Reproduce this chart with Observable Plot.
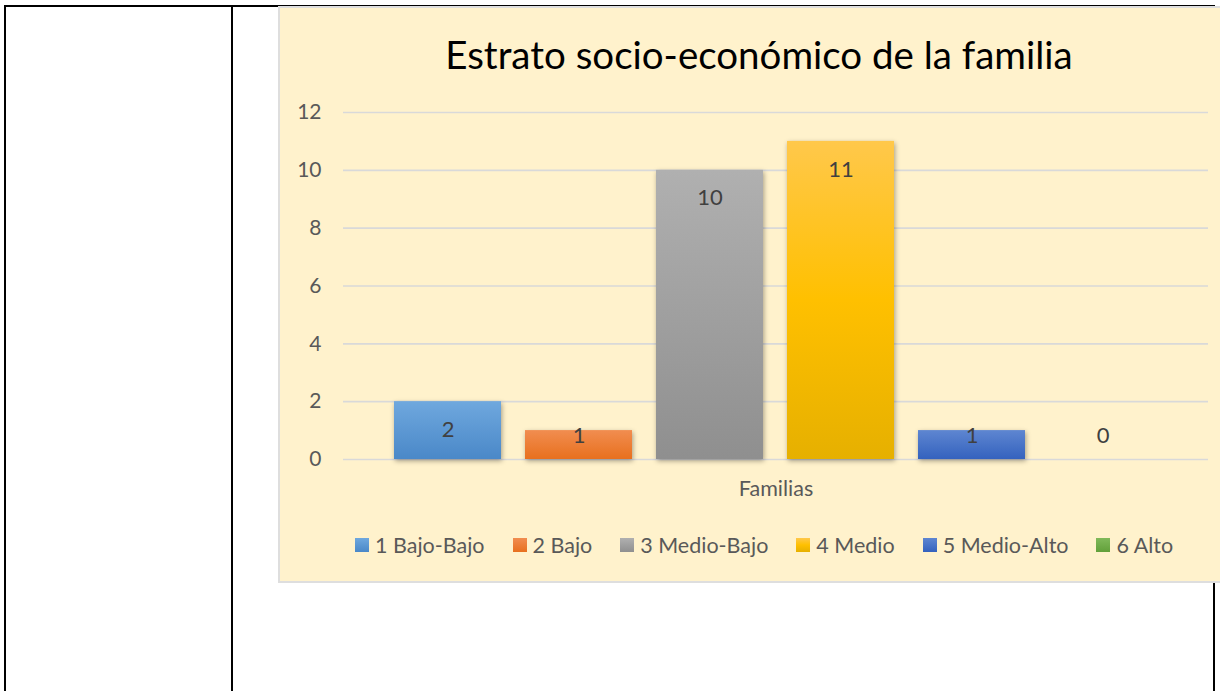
<!DOCTYPE html>
<html><head><meta charset="utf-8">
<script src="https://cdn.jsdelivr.net/npm/d3@7"></script>
<script src="https://cdn.jsdelivr.net/npm/@observablehq/plot@0.6"></script>
<style>
html,body{margin:0;padding:0;}
body{width:1220px;height:691px;position:relative;overflow:hidden;background:#fff;font-family:Lato,"Open Sans",sans-serif;}
.line{position:absolute;background:#000;}
#box{position:absolute;left:278px;top:6px;width:960px;height:573px;background:#FFF2CC;border:2px solid #dedede;box-sizing:content-box;}
#title{position:absolute;left:278px;width:962px;top:29px;text-align:center;font-size:38.5px;color:#000;font-family:Lato,sans-serif;line-height:50px;white-space:nowrap;}
#chart{position:absolute;left:0;top:90px;}
#chart svg g[aria-label="bar"] rect{filter:drop-shadow(1px 2px 2.5px rgba(0,0,0,0.35));}
#legend{position:absolute;left:355px;top:528px;}
.lg-swatches{margin-bottom:0 !important;}
.lg-swatch{margin-right:28px !important;}
.lg-swatch > svg{margin-right:6px !important;}
</style>
</head><body>
<div class="line" style="left:4px;top:5px;width:2px;height:686px"></div>
<div class="line" style="left:231px;top:5px;width:2px;height:686px"></div>
<div class="line" style="left:4px;top:5px;width:1211px;height:2px"></div>
<div class="line" style="left:1213px;top:5px;width:2px;height:686px"></div>
<div id="box"></div>
<svg width="0" height="0" style="position:absolute">
  <defs>
    <linearGradient id="g0" x1="0" y1="0" x2="0" y2="1"><stop offset="0" stop-color="#6fa8de"/><stop offset="1" stop-color="#4a88c8"/></linearGradient>
    <linearGradient id="g1" x1="0" y1="0" x2="0" y2="1"><stop offset="0" stop-color="#f18d50"/><stop offset="1" stop-color="#e8701e"/></linearGradient>
    <linearGradient id="g2" x1="0" y1="0" x2="0" y2="1"><stop offset="0" stop-color="#b0b0b0"/><stop offset="1" stop-color="#8f8f8f"/></linearGradient>
    <linearGradient id="g3" x1="0" y1="0" x2="0" y2="1"><stop offset="0" stop-color="#ffc84b"/><stop offset="0.5" stop-color="#ffc000"/><stop offset="1" stop-color="#e6b000"/></linearGradient>
    <linearGradient id="g4" x1="0" y1="0" x2="0" y2="1"><stop offset="0" stop-color="#5e86d1"/><stop offset="1" stop-color="#3462be"/></linearGradient>
    <linearGradient id="g5" x1="0" y1="0" x2="0" y2="1"><stop offset="0" stop-color="#80b95a"/><stop offset="1" stop-color="#62a03a"/></linearGradient>
  </defs>
</svg>
<div id="title"></div>
<div id="chart"></div>
<div id="legend"></div>
<script>
const titleText = "Estrato socio-económico de la familia";
const xLabel = "Familias";
const categories = ["1 Bajo-Bajo", "2 Bajo", "3 Medio-Bajo", "4 Medio", "5 Medio-Alto", "6 Alto"];
const values = [2, 1, 10, 11, 1, 0];
const yTicks = [0, 2, 4, 6, 8, 10, 12];
const gradients = ["url(#g0)", "url(#g1)", "url(#g2)", "url(#g3)", "url(#g4)", "url(#g5)"];

const data = categories.map((c, i) => ({cat: c, value: values[i]}));
const font = "Lato, 'Open Sans', sans-serif";

document.getElementById("title").textContent = titleText;

const chart = Plot.plot({
  width: 1220,
  height: 419,
  marginTop: 22,
  marginBottom: 50,
  marginLeft: 343,
  marginRight: 12,
  x: {domain: categories, paddingInner: 0.183, paddingOuter: 0.393, axis: null},
  y: {domain: [0, 12], ticks: yTicks, label: null, tickSize: 0, tickPadding: 22},
  color: {domain: categories, range: gradients},
  style: {background: "transparent", fontFamily: font, fontSize: "21px", color: "#595959", overflow: "visible"},
  marks: [
    Plot.ruleY(yTicks, {stroke: "#d9d9d9", strokeWidth: 1.6}),
    Plot.barY(data, {x: "cat", y: "value", fill: "cat"}),
    Plot.text(data, {x: "cat", y: d => Math.max(d.value - 0.97, 0.83), text: d => String(d.value), fill: "#404040", fontSize: 22}),
    Plot.text([xLabel], {frameAnchor: "bottom", lineAnchor: "top", dy: 21, fontSize: 21.5, fill: "#595959"})
  ]
});
document.getElementById("chart").appendChild(chart);

const legend = Plot.legend({
  color: {type: "ordinal", domain: categories, range: gradients},
  swatchSize: 14,
  className: "lg",
  style: {fontFamily: font, fontSize: "21.5px", color: "#595959", background: "transparent"}
});
document.getElementById("legend").appendChild(legend);
</script>
</body></html>
